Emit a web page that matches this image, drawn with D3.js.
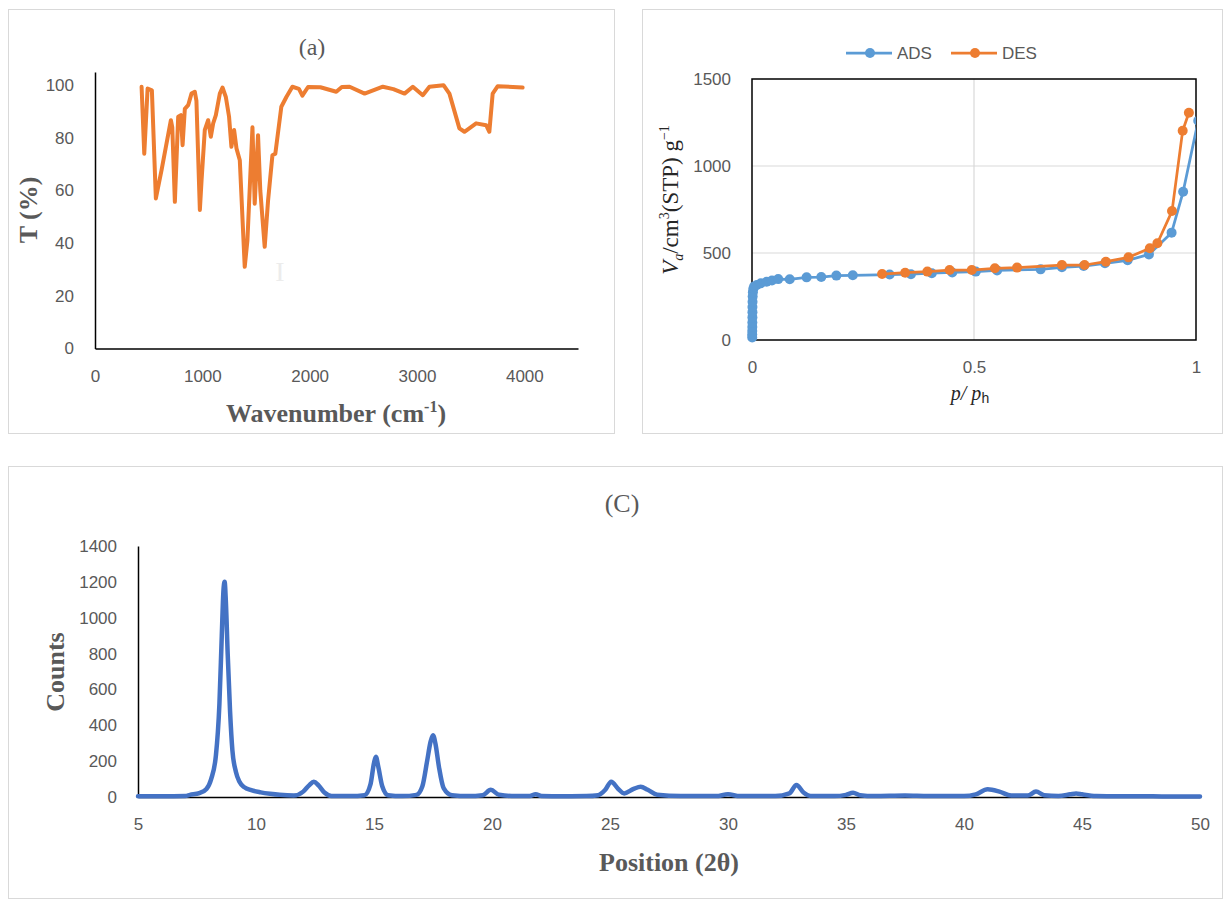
<!DOCTYPE html>
<html>
<head>
<meta charset="utf-8">
<script src="https://cdn.jsdelivr.net/npm/d3@7"></script>
<style>
  body { margin: 0; background: #fff; }
  svg { display: block; }
  .tick text { font-family: "Liberation Sans", Arial, sans-serif; font-size: 17px; fill: #595959; }
  .serif { font-family: "Liberation Serif", "Times New Roman", serif; }
</style>
</head>
<body>
<svg id="chart" width="1225" height="900"></svg>
<script>
// (a) FTIR spectrum: [wavenumber, T%]
const ftirData = [
  [434,99.4],[459,74],[490,98.7],[530,98],[567,57],[620,67.7],[707,86.7],[720,84],[744,55.7],
  [775,88],[800,88.6],[816,77.2],[837,91],[868,92.4],[899,96.8],[930,97.5],[945,94],[977,52.6],
  [993,64],[1023,83],[1054,86.7],[1079,80.4],[1101,85.5],[1126,88.6],[1163,96.8],[1188,99.1],
  [1219,95.5],[1249,88],[1271,76.6],[1296,83],[1318,76],[1349,71.5],[1395,31],[1420,41],
  [1467,84],[1488,55],[1519,81],[1540,60],[1581,38.6],[1612,56],[1653,73.4],[1680,74],
  [1736,91.8],[1783,95.5],[1839,99.4],[1900,98.6],[1932,96],[1985,99.3],[2100,99.2],[2248,97.5],
  [2300,99.3],[2372,99.4],[2512,96.8],[2682,99.4],[2780,98.5],[2884,96.8],[2961,99.4],[3054,96.2],
  [3116,99.4],[3247,100],[3302,96.8],[3395,83.6],[3442,82.3],[3551,85.5],[3644,84.8],[3674,82.3],
  [3705,96.8],[3752,99.6],[3984,99.1]
];
const ftirTicksX = [0, 1000, 2000, 3000, 4000];
const ftirTicksY = [0, 20, 40, 60, 80, 100];

// (b) N2 isotherm: [p/p0, V]
const adsData = [
  [0.0005,15],[0.0005,32],[0.0006,52],[0.0007,75],[0.0008,100],[0.0009,130],[0.001,160],[0.001,190],
  [0.0012,220],[0.0015,250],[0.002,275],[0.003,295],[0.005,308],[0.011,316],[0.02,326],[0.033,335],
  [0.045,342],[0.059,350],[0.085,349],[0.123,360],[0.156,362],[0.19,370],[0.227,372],[0.31,376],
  [0.358,378],[0.405,384],[0.451,388],[0.504,393],[0.552,400],[0.65,406],[0.698,418],[0.747,425],
  [0.795,441],[0.846,458],[0.894,492],[0.945,617],[0.971,852],[1.005,1260]
];
const desData = [
  [0.293,379],[0.345,387],[0.395,393],[0.445,402],[0.495,402],[0.547,412],[0.597,416],[0.698,431],
  [0.749,431],[0.797,450],[0.848,475],[0.896,527],[0.913,556],[0.946,741],[0.970,1203],[0.984,1306]
];
const isoTicksX = [0, 0.5, 1];
const isoTicksY = [0, 500, 1000, 1500];
const isoSeries = ["ADS", "DES"];

// (c) XRD pattern: [2theta, counts]
const xrdData = [
  [5,4],[6,4],[7,6],[7.2,12],[7.6,22],[7.9,45],[8.1,100],[8.3,230],[8.45,520],[8.55,900],[8.62,1150],
  [8.67,1200],[8.72,1100],[8.8,800],[8.9,480],[9.0,260],[9.15,140],[9.3,85],[9.5,55],[9.8,38],
  [10.2,26],[10.6,18],[11.0,12],[11.6,8],[12.0,30],[12.25,65],[12.45,85],[12.65,65],[12.9,25],
  [13.2,6],[14.0,5],[14.6,10],[14.85,70],[15.0,190],[15.08,225],[15.18,170],[15.35,60],[15.6,10],
  [16.2,5],[16.8,12],[17.05,60],[17.25,200],[17.4,310],[17.5,345],[17.6,300],[17.75,170],[17.95,50],
  [18.3,10],[19.0,5],[19.6,10],[19.95,40],[20.3,12],[21.0,5],[21.6,6],[21.85,15],[22.1,6],[23.0,4],
  [24.0,5],[24.5,10],[24.8,40],[25.05,85],[25.35,45],[25.6,20],[26.0,45],[26.3,57],[26.6,40],
  [27.0,12],[28.0,5],[29.5,5],[30.0,15],[30.5,5],[32.0,5],[32.6,20],[32.9,67],[33.2,25],[33.5,6],
  [34.5,5],[35.0,12],[35.3,24],[35.6,10],[36.2,5],[37.5,8],[38.5,5],[40.0,5],[40.5,15],[41.0,43],
  [41.5,30],[42.0,8],[42.7,8],[43.05,30],[43.4,10],[44.0,6],[44.5,15],[44.75,20],[45.0,15],[45.6,6],
  [46.5,4],[47.5,4],[48.5,3],[50,3]
];
const xrdTicksX = [5, 10, 15, 20, 25, 30, 35, 40, 45, 50];
const xrdTicksY = [0, 200, 400, 600, 800, 1000, 1200, 1400];

const svg = d3.select("#chart");
const fmt = d3.format("d");

// panel frames
[[8.5, 9.5, 606, 424], [642.5, 9.5, 580, 424], [8.5, 466.5, 1214, 432]].forEach(f => {
  svg.append("rect").attr("x", f[0]).attr("y", f[1]).attr("width", f[2]).attr("height", f[3])
    .attr("fill", "none").attr("stroke", "#d9d9d9");
});

function styleAxis(g, showDomain) {
  g.select(".domain").attr("stroke", showDomain ? "#000" : "none").attr("stroke-width", 1.5);
  g.selectAll(".tick line").remove();
  g.attr("font-family", null).attr("font-size", null);
}

// ---------- (a) FTIR ----------
const xA = d3.scaleLinear().domain([0, 4500]).range([95, 578]);
const yA = d3.scaleLinear().domain([0, 105]).range([348.5, 72]);

svg.append("g").attr("transform", "translate(0,348.5)")
  .call(d3.axisBottom(xA).tickValues(ftirTicksX).tickSize(0).tickPadding(21).tickFormat(fmt))
  .call(g => styleAxis(g, true));
svg.append("g").attr("transform", "translate(95,0)")
  .call(d3.axisLeft(yA).tickValues(ftirTicksY).tickSize(0).tickPadding(21).tickFormat(fmt))
  .call(g => styleAxis(g, true));

svg.append("path").datum(ftirData)
  .attr("fill", "none").attr("stroke", "#ED7D31").attr("stroke-width", 4)
  .attr("stroke-linejoin", "round").attr("stroke-linecap", "round")
  .attr("d", d3.line().x(d => xA(d[0])).y(d => yA(d[1])));

svg.append("text").attr("class", "serif").attr("x", 312).attr("y", 55)
  .attr("text-anchor", "middle").attr("font-size", 24).attr("fill", "#595959").text("(a)");
svg.append("text").attr("class", "serif").attr("transform", "translate(37,210) rotate(-90)")
  .attr("text-anchor", "middle").attr("font-size", 26).attr("font-weight", "bold").attr("fill", "#595959")
  .text("T (%)");
const wl = svg.append("text").attr("class", "serif").attr("x", 336).attr("y", 422)
  .attr("text-anchor", "middle").attr("font-size", 26).attr("font-weight", "bold").attr("fill", "#595959");
wl.append("tspan").text("Wavenumber (cm");
wl.append("tspan").attr("font-size", 16).attr("dy", -10).text("-1");
wl.append("tspan").attr("dy", 10).text(")");
// stray text cursor mark in the source figure
svg.append("text").attr("class", "serif").attr("x", 280).attr("y", 281).attr("text-anchor", "middle")
  .attr("font-size", 28).attr("fill", "#ececec").text("I");

// ---------- (b) isotherm ----------
const xB = d3.scaleLinear().domain([0, 1]).range([752, 1196]);
const yB = d3.scaleLinear().domain([0, 1500]).range([340, 79]);

const gridB = svg.append("g").attr("stroke", "#d9d9d9").attr("stroke-width", 1.2);
isoTicksY.filter(v => v > 0 && v < 1500).forEach(v => {
  gridB.append("line").attr("x1", xB(0)).attr("x2", xB(1)).attr("y1", yB(v)).attr("y2", yB(v));
});
isoTicksX.filter(v => v > 0 && v < 1).forEach(v => {
  gridB.append("line").attr("x1", xB(v)).attr("x2", xB(v)).attr("y1", yB(0)).attr("y2", yB(1500));
});

svg.append("g").attr("transform", "translate(0,340)")
  .call(d3.axisBottom(xB).tickValues(isoTicksX).tickSize(0).tickPadding(21).tickFormat(d3.format("")))
  .call(g => styleAxis(g, false));
svg.append("g").attr("transform", "translate(752,0)")
  .call(d3.axisLeft(yB).tickValues(isoTicksY).tickSize(0).tickPadding(21).tickFormat(fmt))
  .call(g => styleAxis(g, false));

svg.append("rect").attr("x", xB(0)).attr("y", yB(1500)).attr("width", xB(1) - xB(0))
  .attr("height", yB(0) - yB(1500)).attr("fill", "none").attr("stroke", "#000").attr("stroke-width", 1.5);

svg.append("clipPath").attr("id", "clipB").append("rect")
  .attr("x", 700).attr("y", 60).attr("width", xB(1) - 700).attr("height", 300);

const isoColor = d3.scaleOrdinal().domain(isoSeries).range(["#5B9BD5", "#ED7D31"]);
const lineB = d3.line().x(d => xB(d[0])).y(d => yB(d[1]));
[["ADS", adsData], ["DES", desData]].forEach(([name, data]) => {
  const g = svg.append("g").attr("clip-path", "url(#clipB)");
  g.append("path").datum(data).attr("fill", "none").attr("stroke", isoColor(name))
    .attr("stroke-width", 2.75).attr("stroke-linejoin", "round").attr("d", lineB);
  g.selectAll("circle").data(data).join("circle")
    .attr("cx", d => xB(d[0])).attr("cy", d => yB(d[1])).attr("r", 5).attr("fill", isoColor(name));
});

// legend
const legB = svg.append("g");
isoSeries.forEach((name, i) => {
  const x0 = 846 + i * 105;
  legB.append("line").attr("x1", x0).attr("x2", x0 + 46).attr("y1", 53).attr("y2", 53)
    .attr("stroke", isoColor(name)).attr("stroke-width", 2.75);
  legB.append("circle").attr("cx", x0 + 24).attr("cy", 53).attr("r", 5).attr("fill", isoColor(name));
  legB.append("text").attr("x", x0 + 51).attr("y", 59).attr("font-size", 17)
    .attr("font-family", "Liberation Sans, Arial, sans-serif").attr("fill", "#595959").text(name);
});

const yt = svg.append("text").attr("class", "serif").attr("transform", "translate(678,200) rotate(-90)")
  .attr("text-anchor", "middle").attr("font-size", 23).attr("fill", "#262626");
yt.append("tspan").attr("font-style", "italic").text("V");
yt.append("tspan").attr("font-style", "italic").attr("font-size", 14).attr("dy", 5).text("a");
yt.append("tspan").attr("dy", -5).text("/cm");
yt.append("tspan").attr("font-size", 14).attr("dy", -9).text("3");
yt.append("tspan").attr("dy", 9).text("(STP) g");
yt.append("tspan").attr("font-size", 14).attr("dy", -9).text("\u22121");

const xt = svg.append("text").attr("x", 970).attr("y", 400).attr("text-anchor", "middle")
  .attr("font-size", 20).attr("fill", "#262626").attr("font-family", "Liberation Sans, Arial, sans-serif");
xt.append("tspan").attr("font-style", "italic").attr("class", "serif").text("p/ p");
xt.append("tspan").attr("font-size", 14).attr("dy", 3).text("h");

// ---------- (c) XRD ----------
const xC = d3.scaleLinear().domain([5, 50]).range([138, 1200]);
const yC = d3.scaleLinear().domain([0, 1400]).range([797, 546]);

svg.append("g").attr("transform", "translate(0,797)")
  .call(d3.axisBottom(xC).tickValues(xrdTicksX).tickSize(0).tickPadding(21).tickFormat(fmt))
  .call(g => styleAxis(g, true));
svg.append("g").attr("transform", "translate(138,0)")
  .call(d3.axisLeft(yC).tickValues(xrdTicksY).tickSize(0).tickPadding(21).tickFormat(fmt))
  .call(g => styleAxis(g, true));

svg.append("path").datum(xrdData)
  .attr("fill", "none").attr("stroke", "#4472C4").attr("stroke-width", 4.5)
  .attr("stroke-linejoin", "round").attr("stroke-linecap", "round")
  .attr("d", d3.line().curve(d3.curveMonotoneX).x(d => xC(d[0])).y(d => yC(d[1])));

svg.append("text").attr("class", "serif").attr("x", 622).attr("y", 512)
  .attr("text-anchor", "middle").attr("font-size", 26).attr("fill", "#595959").text("(C)");
svg.append("text").attr("class", "serif").attr("transform", "translate(64,672) rotate(-90)")
  .attr("text-anchor", "middle").attr("font-size", 26).attr("font-weight", "bold").attr("fill", "#595959")
  .text("Counts");
svg.append("text").attr("class", "serif").attr("x", 669).attr("y", 871)
  .attr("text-anchor", "middle").attr("font-size", 26).attr("font-weight", "bold").attr("fill", "#595959")
  .text("Position (2θ)");
</script>
</body>
</html>
